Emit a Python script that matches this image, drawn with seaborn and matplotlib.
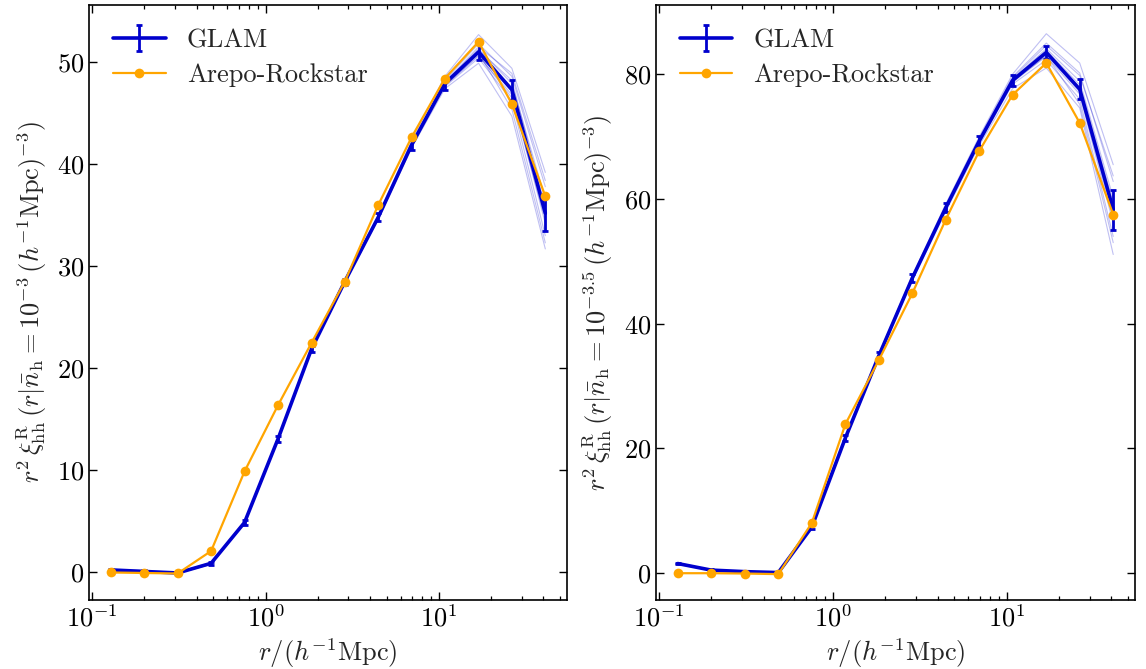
import numpy as np
import pandas as pd
import matplotlib
matplotlib.use("Agg")
import matplotlib.pyplot as plt
import seaborn as sns

# Separation bin centres, h^-1 Mpc
r_bins = [0.128, 0.199, 0.311, 0.485, 0.756, 1.18, 1.84, 2.86, 4.46, 6.95, 10.8, 16.9, 26.3, 41.0]

# Number density 1e-3: GLAM mean, its error, Arepo-Rockstar
glam_lo = [0.25, 0.1, -0.05, 0.9, 4.9, 13.1, 21.9, 28.5, 34.8, 41.9, 47.9, 51.0, 47.3, 35.2]
glam_lo_err = [0.1, 0.1, 0.1, 0.15, 0.2, 0.3, 0.3, 0.3, 0.4, 0.5, 0.6, 0.8, 1.0, 1.7]
arepo_lo = [0.0, -0.05, -0.1, 2.1, 9.9, 16.4, 22.5, 28.5, 36.0, 42.65, 48.4, 52.0, 45.9, 36.85]

# Number density 10^-3.5
glam_hi = [1.55, 0.5, 0.25, 0.1, 7.4, 21.7, 34.9, 47.3, 58.6, 69.3, 79.0, 83.5, 77.6, 58.3]
glam_hi_err = [0.15, 0.1, 0.1, 0.1, 0.3, 0.5, 0.5, 0.6, 0.7, 0.8, 0.9, 1.1, 1.6, 3.2]
arepo_hi = [0.0, 0.0, -0.05, -0.15, 8.05, 23.9, 34.2, 44.85, 56.7, 67.7, 76.7, 81.8, 72.2, 57.5]

# Individual GLAM realisations
real_lo = [
    [0.3, 0.1, 0.0, 0.9, 4.9, 13.2, 22.0, 28.6, 35.0, 42.3, 48.6, 52.7, 49.4, 39.2],
    [0.2, 0.1, -0.1, 0.8, 4.8, 13.0, 21.8, 28.4, 34.6, 41.6, 47.4, 49.9, 44.7, 31.7],
    [0.3, 0.2, 0.0, 1.0, 5.0, 13.2, 21.9, 28.6, 34.9, 42.1, 48.2, 51.8, 48.6, 37.8],
    [0.2, 0.1, -0.1, 0.9, 4.9, 13.0, 21.8, 28.4, 34.7, 41.7, 47.6, 50.4, 46.2, 33.0],
    [0.25, 0.1, 0.0, 0.9, 4.9, 13.1, 22.0, 28.5, 34.9, 42.0, 48.0, 51.3, 47.9, 36.6],
    [0.2, 0.0, -0.1, 0.8, 4.8, 13.0, 21.8, 28.4, 34.7, 41.8, 47.7, 50.6, 46.8, 34.2],
    [0.3, 0.1, 0.0, 0.9, 5.0, 13.1, 21.9, 28.5, 34.8, 41.9, 48.0, 51.5, 48.9, 38.4],
    [0.2, 0.1, -0.1, 0.9, 4.9, 13.1, 21.9, 28.5, 34.8, 41.9, 47.8, 50.9, 45.4, 32.3],
    [0.25, 0.1, 0.0, 0.9, 4.9, 13.1, 21.9, 28.5, 34.8, 42.0, 48.1, 51.2, 48.2, 35.8],
    [0.2, 0.1, -0.05, 0.85, 4.85, 13.05, 21.85, 28.45, 34.75, 41.8, 47.7, 50.7, 46.5, 34.6],
]
real_hi = [
    [1.7, 0.55, 0.3, 0.1, 7.5, 21.9, 35.2, 47.7, 59.2, 70.0, 80.0, 86.5, 81.8, 65.5],
    [1.4, 0.45, 0.2, 0.05, 7.3, 21.5, 34.6, 46.9, 58.0, 68.6, 77.7, 81.0, 74.6, 51.1],
    [1.6, 0.5, 0.25, 0.1, 7.4, 21.8, 35.0, 47.5, 58.9, 69.7, 79.6, 85.0, 80.2, 62.8],
    [1.5, 0.5, 0.2, 0.1, 7.4, 21.6, 34.8, 47.1, 58.3, 69.0, 78.4, 82.3, 76.0, 54.0],
    [1.6, 0.5, 0.3, 0.1, 7.4, 21.7, 34.9, 47.4, 58.7, 69.4, 79.2, 84.1, 78.9, 60.2],
    [1.5, 0.45, 0.25, 0.1, 7.3, 21.6, 34.8, 47.2, 58.5, 69.1, 78.7, 82.9, 76.8, 56.1],
    [1.6, 0.55, 0.25, 0.1, 7.5, 21.8, 35.0, 47.4, 58.8, 69.5, 79.4, 84.6, 79.8, 63.7],
    [1.5, 0.5, 0.25, 0.1, 7.4, 21.7, 34.9, 47.3, 58.5, 69.2, 78.8, 83.0, 75.2, 53.0],
    [1.55, 0.5, 0.25, 0.1, 7.4, 21.7, 34.9, 47.3, 58.6, 69.3, 79.1, 83.8, 78.3, 59.4],
    [1.5, 0.5, 0.25, 0.1, 7.35, 21.65, 34.85, 47.25, 58.5, 69.2, 78.9, 83.2, 77.2, 57.0],
]

ylabels = [
    r"$r^2\,\xi^{\rm R}_{\rm hh}\,(r|\bar{n}_{\rm h}=10^{-3}\,(h^{-1}{\rm Mpc})^{-3})$",
    r"$r^2\,\xi^{\rm R}_{\rm hh}\,(r|\bar{n}_{\rm h}=10^{-3.5}\,(h^{-1}{\rm Mpc})^{-3})$",
]

sns.set_theme(style="ticks")
FS = 19
plt.rcParams.update({
    "font.family": "serif",
    "font.serif": ["cmr10", "DejaVu Serif"],
    "mathtext.fontset": "cm",
    "axes.formatter.use_mathtext": True,
    "font.size": FS,
    "axes.labelsize": FS,
    "xtick.labelsize": FS,
    "ytick.labelsize": FS,
    "legend.fontsize": FS,
    "xtick.direction": "in",
    "ytick.direction": "in",
    "xtick.top": True,
    "ytick.right": True,
    "xtick.major.size": 6,
    "ytick.major.size": 6,
    "xtick.minor.size": 3,
    "xtick.major.width": 1.0,
    "ytick.major.width": 1.0,
    "xtick.minor.width": 0.9,
    "axes.linewidth": 1.2,
    "axes.edgecolor": "black",
    "xtick.color": "black",
    "ytick.color": "black",
    "axes.unicode_minus": False,
})

BLUE = "mediumblue"
ORANGE = "orange"

fig = plt.figure(figsize=(11.46, 6.69), dpi=100)
ax_l = fig.add_axes([0.0777, 0.1031, 0.4171, 0.8894])
ax_r = fig.add_axes([0.5724, 0.1031, 0.4180, 0.8894])

panels = [
    (ax_l, glam_lo, glam_lo_err, arepo_lo, real_lo, ylabels[0]),
    (ax_r, glam_hi, glam_hi_err, arepo_hi, real_hi, ylabels[1]),
]

for ax, glam, gerr, arepo, reals, ylab in panels:
    # thin realisation curves
    rows = []
    for k, vals in enumerate(reals):
        for rv, v in zip(r_bins, vals):
            rows.append({"r": rv, "xi": v, "real": k})
    df_real = pd.DataFrame(rows)
    sns.lineplot(data=df_real, x="r", y="xi", units="real", estimator=None,
                 color=BLUE, alpha=0.25, lw=0.8, ax=ax, legend=False, zorder=1)

    # GLAM mean with errors
    eb = ax.errorbar(r_bins, glam, yerr=gerr, color=BLUE, lw=2.6, elinewidth=2.0,
                     capsize=2.5, capthick=2.0, zorder=2, label="GLAM")

    # Arepo-Rockstar
    df_ar = pd.DataFrame({"r": r_bins, "xi": arepo})
    sns.lineplot(data=df_ar, x="r", y="xi", color=ORANGE, lw=1.6, marker="o",
                 markersize=7, markeredgewidth=0, ax=ax, zorder=3, label="Arepo-Rockstar")
    ar_line = ax.get_lines()[-1]

    ax.set_xscale("log")
    ax.margins(x=0.05, y=0.05)
    ax.set_xlabel(r"$r/(h^{-1}{\rm Mpc})$", labelpad=3)
    ax.set_ylabel(ylab, labelpad=6)
    ax.tick_params(axis="y", which="minor", left=False, right=False)
    ax.legend([eb, ar_line], ["GLAM", "Arepo-Rockstar"], loc="upper left",
              frameon=False, handlelength=2.0, borderaxespad=0.5,
              labelspacing=0.4)

ax_l.set_yticks([0, 10, 20, 30, 40, 50])
ax_r.set_yticks([0, 20, 40, 60, 80])
ax_l.set_ylim(-2.7, 55.6)
ax_r.set_ylim(-4.3, 91.1)

fig.savefig("out.png", dpi=100)
